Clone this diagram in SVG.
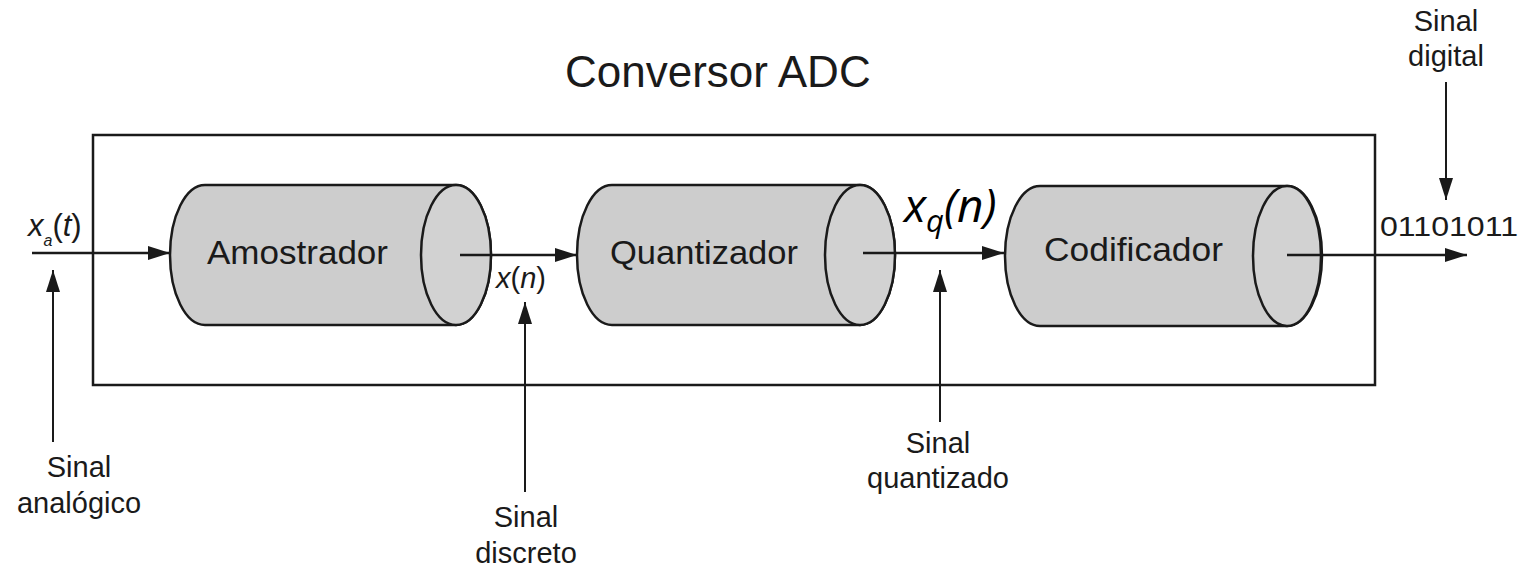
<svg xmlns="http://www.w3.org/2000/svg" width="1520" height="568" viewBox="0 0 1520 568">
<style>
.t{font-family:"Liberation Sans",Arial,sans-serif;fill:#1a1a1a}
.lbl{font-size:29px;text-anchor:middle}
.blk{font-size:33px}
.it{font-style:italic}
.body{fill:#cdcdcd;stroke:#1a1a1a;stroke-width:2.5}
.cap{fill:#d2d2d2;stroke:#1a1a1a;stroke-width:2.5}
.ln{stroke:#1a1a1a;stroke-width:2.5;fill:none}
.ln2{stroke:#1a1a1a;stroke-width:2;fill:none}
</style>
<defs>
<marker id="ah" markerUnits="userSpaceOnUse" markerWidth="24" markerHeight="16" refX="22" refY="8" orient="auto">
<path d="M0,1 L22,8 L0,15 Z" fill="#1a1a1a"/>
</marker>
</defs>
<rect width="1520" height="568" fill="#ffffff"/>
<text class="t" x="565" y="87" font-size="44">Conversor ADC</text>
<rect id="adc" x="93" y="135" width="1282" height="250" fill="none" stroke="#1a1a1a" stroke-width="2.5"/>
<g id="amostrador">
<path class="body" d="M205,185 L456,185 A35,70 0 0 1 456,325 L205,325 A35,70 0 0 1 205,185 Z"/>
<ellipse class="cap" cx="456" cy="255" rx="35" ry="70"/>
<text class="t blk" x="207" y="264" textLength="181" lengthAdjust="spacingAndGlyphs">Amostrador</text>
</g>
<g id="quantizador">
<path class="body" d="M612,185 L860,185 A35,70 0 0 1 860,325 L612,325 A35,70 0 0 1 612,185 Z"/>
<ellipse class="cap" cx="860" cy="255" rx="35" ry="70"/>
<text class="t blk" x="610" y="264" textLength="188" lengthAdjust="spacingAndGlyphs">Quantizador</text>
</g>
<g id="codificador">
<path class="body" d="M1040,186 L1287,186 A35,70 0 0 1 1287,326 L1040,326 A35,70 0 0 1 1040,186 Z"/>
<ellipse class="cap" cx="1287" cy="256" rx="34" ry="70"/>
<text class="t blk" x="1044" y="261" textLength="179" lengthAdjust="spacingAndGlyphs">Codificador</text>
</g>
<g id="connectors">
<line class="ln" x1="32" y1="253" x2="170" y2="253" marker-end="url(#ah)"/>
<line class="ln" x1="460" y1="255" x2="577" y2="255" marker-end="url(#ah)"/>
<line class="ln" x1="863" y1="253" x2="1004" y2="253" marker-end="url(#ah)"/>
<line class="ln" x1="1287" y1="255" x2="1467" y2="255" marker-end="url(#ah)"/>
<line class="ln2" x1="53" y1="442" x2="53" y2="270" marker-end="url(#ah)"/>
<line class="ln2" x1="525" y1="492" x2="525" y2="302" marker-end="url(#ah)"/>
<line class="ln2" x1="940" y1="422" x2="940" y2="270" marker-end="url(#ah)"/>
<line class="ln2" x1="1446" y1="82" x2="1446" y2="200" marker-end="url(#ah)"/>
</g>
<g id="labels">
<text class="t" x="28" y="236" font-size="31"><tspan class="it">x</tspan><tspan class="it" font-size="16" dy="10">a</tspan><tspan dy="-10">(</tspan><tspan class="it">t</tspan>)</text>
<text class="t" x="496" y="288" font-size="29"><tspan class="it">x</tspan>(<tspan class="it">n</tspan>)</text>
<text x="904" y="222" font-family="'Open Sans','Noto Sans',sans-serif" font-size="46" font-style="italic" fill="#000">x<tspan font-size="31" dy="10">q</tspan><tspan dy="-10">(n)</tspan></text>
<text class="t" x="1380" y="236" font-size="28" textLength="138" lengthAdjust="spacingAndGlyphs">01101011</text>
<text class="t lbl" x="1446" y="31">Sinal</text>
<text class="t lbl" x="1446" y="66">digital</text>
<text class="t lbl" x="79" y="477">Sinal</text>
<text class="t lbl" x="79" y="513">analógico</text>
<text class="t lbl" x="526" y="527">Sinal</text>
<text class="t lbl" x="526" y="563">discreto</text>
<text class="t lbl" x="938" y="453">Sinal</text>
<text class="t lbl" x="938" y="488">quantizado</text>
</g>
</svg>
